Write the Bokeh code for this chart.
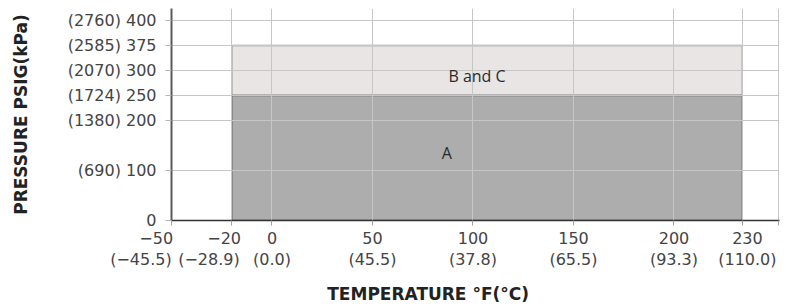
import numpy as np
from bokeh.plotting import figure
from bokeh.models import FixedTicker, Range1d
from bokeh.core.properties import value
from bokeh.embed import file_html
from bokeh.resources import INLINE

# ---- data ----
pressure_ticks = [0, 100, 200, 250, 300, 375, 400]
pressure_kpa = ["", "(690)", "(1380)", "(1724)", "(2070)", "(2585)", "(2760)"]
temp_ticks = [-50, -20, 0, 50, 100, 150, 200, 230]
temp_c = ["(−45.5)", "(−28.9)", "(0.0)", "(45.5)", "(37.8)", "(65.5)", "(93.3)", "(110.0)"]

zone_names = ["B and C", "A"]
zone_t_min = [-20, -20]
zone_t_max = [230, 230]
zone_p_min = [250, 0]
zone_p_max = [375, 250]
zone_label_t = [102, 87]
zone_label_p = [290, 135]

# ---- axis layout (display slots of the original, non-linear axes) ----
p_slot = [0, 2, 4, 5, 6, 7, 8]
t_src = [-50, 200, 230, 260]
t_dst = [-50, 200, 234, 264]
x_end = 252.5
y_end = 8.48
# label padding (no-break spaces) used to nudge crowded labels sideways
f_pad_right = [6, 3, 0, 0, 0, 0, 0, 0]
c_pad_right = [12, 9, 0, 0, 0, 0, 0, 0]
pad_left = [0, 0, 0, 0, 0, 0, 0, 2]
x_title_pad_right = 16
NB = "\u00a0"


def ty(v):
    return np.interp(v, pressure_ticks, p_slot)


def tx(v):
    return np.interp(v, t_src, t_dst)


p = figure(width=789, height=308, output_backend="svg", toolbar_location=None,
           x_range=Range1d(-50, x_end), y_range=Range1d(0, y_end),
           min_border_left=171, min_border_right=10, min_border_top=8,
           min_border_bottom=88)
p.outline_line_color = None
p.background_fill_color = "white"

fills = ["#e9e5e5", "#adadad"]
lines = ["#8a8a8a", "#5e5e5e"]
r = p.quad(left=tx(zone_t_min), right=tx(zone_t_max), bottom=ty(zone_p_min),
           top=ty(zone_p_max), fill_color=fills, line_color=lines, line_width=1.3)
r.level = "underlay"

p.text(x=tx(zone_label_t), y=ty(zone_label_p), text=zone_names,
       text_font=value("Open Sans"), text_font_size="16px", text_align="center",
       text_baseline="middle", text_color="#2a2a2a", level="overlay")

# ---- ticks ----
x_ticks = [float(v) for v in tx(temp_ticks)] + [x_end - 0.3]
y_ticks = [float(v) for v in ty(pressure_ticks)]

x_labels = {}
for i, (t, c) in enumerate(zip(temp_ticks, temp_c)):
    f = str(t).replace("-", "−")
    line1 = NB * pad_left[i] + f + NB * f_pad_right[i]
    line2 = NB * pad_left[i] + c + NB * c_pad_right[i]
    x_labels[float(tx(t))] = line1 + "\n" + line2
x_labels[x_end - 0.3] = ""

y_labels = {}
for pt, k in zip(pressure_ticks, pressure_kpa):
    y_labels[float(ty(pt))] = (k + " " + str(pt)) if k else str(pt)

p.xaxis.ticker = FixedTicker(ticks=x_ticks)
p.yaxis.ticker = FixedTicker(ticks=y_ticks)
p.xgrid.ticker = FixedTicker(ticks=x_ticks)
p.ygrid.ticker = FixedTicker(ticks=y_ticks)
p.xaxis.major_label_overrides = x_labels
p.yaxis.major_label_overrides = y_labels

for g in (p.xgrid, p.ygrid):
    g.grid_line_color = "#c6c6c6"
    g.grid_line_width = 1
    g.level = "glyph"

for ax in (p.xaxis, p.yaxis):
    ax.major_label_text_font = "DejaVu Sans"
    ax.major_label_text_font_size = "16px"
    ax.major_label_text_color = "#444444"
    ax.minor_tick_line_color = None
    ax.major_tick_in = 0
    ax.axis_label_text_font = "DejaVu Sans"
    ax.axis_label_text_font_size = "17px"
    ax.axis_label_text_font_style = "bold"
    ax.axis_label_text_color = "#222222"

p.yaxis.axis_line_color = "#5a5a5a"
p.yaxis.axis_line_width = 2
p.yaxis.major_tick_out = 6
p.yaxis.major_tick_line_color = "#b5b5b5"
p.yaxis.major_label_standoff = 9
p.yaxis.axis_label = "PRESSURE PSIG(kPa)"
p.yaxis.axis_label_standoff = 34

p.xaxis.axis_line_color = "#333333"
p.xaxis.axis_line_width = 1.5
p.xaxis.major_tick_out = 5
p.xaxis.major_tick_line_color = "#a0a0a0"
p.xaxis.major_label_standoff = 3
p.xaxis.major_label_text_line_height = 1.15
p.xaxis.axis_label = "TEMPERATURE °F(°C)" + NB * x_title_pad_right
p.xaxis.axis_label_standoff = 12

open("out.html", "w").write(file_html(p, INLINE))
